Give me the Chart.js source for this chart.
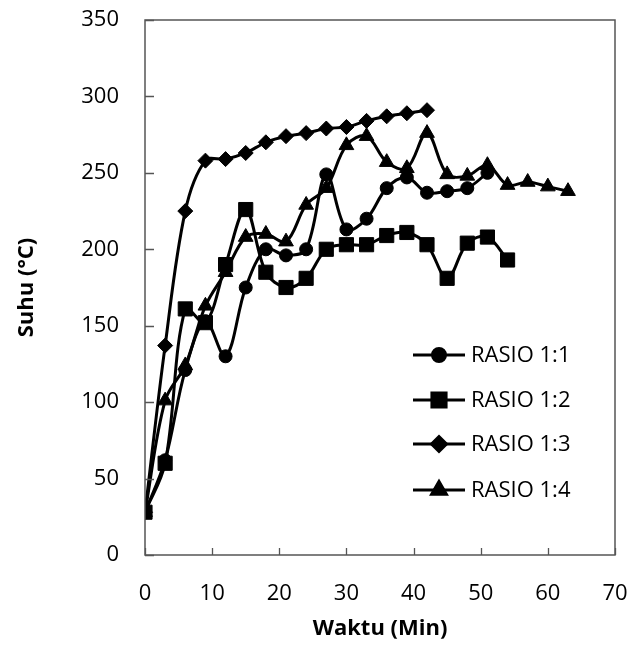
<!DOCTYPE html>
<html>
<head>
<meta charset="utf-8">
<script src="https://cdn.jsdelivr.net/npm/chart.js@4/dist/chart.umd.min.js"></script>
<style>
  html, body { margin: 0; padding: 0; background: #fff; }
  #wrap { width: 630px; height: 646px; }
</style>
</head>
<body>
<div id="wrap"><canvas id="c" width="630" height="646"></canvas></div>
<script>
// ---- data ----
const times = [0, 3, 6, 9, 12, 15, 18, 21, 24, 27, 30, 33, 36, 39, 42, 45, 48, 51, 54, 57, 60, 63];
const rasio11 = [28, 62, 121, 153, 130, 175, 200, 196, 200, 249, 213, 220, 240, 247, 237, 238, 240, 250];
const rasio12 = [28, 60, 161, 152, 190, 226, 185, 175, 181, 200, 203, 203, 209, 211, 203, 181, 204, 208, 193];
const rasio13 = [28, 137, 225, 258, 259, 263, 270, 274, 276, 279, 280, 284, 287, 289, 291];
const rasio14 = [28, 101, 124, 163, 185, 208, 210, 205, 229, 240, 268, 274, 257, 253, 276, 249, 248, 255, 242, 244, 241, 238];
const seriesNames = ['RASIO 1:1', 'RASIO 1:2', 'RASIO 1:3', 'RASIO 1:4'];
const xTicks = [0, 10, 20, 30, 40, 50, 60, 70];
const yTicks = [0, 50, 100, 150, 200, 250, 300, 350];
const xTitle = 'Waktu (Min)';
const yTitle = 'Suhu (°C)';

const FONT = '"Open Sans", "Noto Sans", sans-serif';
const pts = vals => vals.map((v, i) => ({ x: times[i], y: v }));

const styles = [
  { pointStyle: 'circle', pointRadius: 6.5 },
  { pointStyle: 'rect', pointRadius: 10 },
  { pointStyle: 'rectRot', pointRadius: 7.5 },
  { pointStyle: 'triangle', pointRadius: 8.5 }
];
const allVals = [rasio11, rasio12, rasio13, rasio14];

const datasets = allVals.map((vals, i) => ({
  label: seriesNames[i],
  data: pts(vals),
  borderColor: '#000',
  backgroundColor: '#000',
  borderWidth: 3,
  pointBackgroundColor: '#000',
  pointBorderColor: '#000',
  pointBorderWidth: 1,
  pointStyle: styles[i].pointStyle,
  pointRadius: styles[i].pointRadius,
  tension: 0.35,
  fill: false,
  order: 3 - i
}));

const framePlugin = {
  id: 'frame',
  afterDatasetsDraw(chart) {
    const { ctx, chartArea: a, scales } = chart;
    ctx.save();
    ctx.strokeStyle = '#555';
    ctx.lineWidth = 1.5;
    ctx.strokeRect(a.left, a.top, a.right - a.left, a.bottom - a.top);
    ctx.lineWidth = 1.3;
    ctx.beginPath();
    xTicks.forEach(v => {
      const px = Math.round(scales.x.getPixelForValue(v)) + 0.5;
      ctx.moveTo(px, a.bottom);
      ctx.lineTo(px, a.bottom - 7);
    });
    yTicks.forEach(v => {
      const py = Math.round(scales.y.getPixelForValue(v)) + 0.5;
      ctx.moveTo(a.left, py);
      ctx.lineTo(a.left + 9, py);
    });
    ctx.stroke();
    ctx.restore();
  }
};

const legendPlugin = {
  id: 'innerLegend',
  afterDraw(chart) {
    const { ctx } = chart;
    const rows = [355, 400, 444, 490];
    ctx.save();
    chart.data.datasets.forEach((ds, i) => {
      const y = rows[i];
      ctx.strokeStyle = '#000';
      ctx.lineWidth = 3;
      ctx.beginPath();
      ctx.moveTo(413, y);
      ctx.lineTo(465, y);
      ctx.stroke();
      ctx.fillStyle = '#000';
      Chart.helpers.drawPoint(ctx, { pointStyle: ds.pointStyle, radius: ds.pointRadius, borderWidth: 1 }, 439, y);
      ctx.fillStyle = '#000';
      ctx.font = '22px ' + FONT;
      ctx.textBaseline = 'middle';
      ctx.textAlign = 'left';
      ctx.fillText(ds.label, 471, y + 1);
    });
    ctx.restore();
  }
};

new Chart(document.getElementById('c'), {
  type: 'line',
  data: { datasets },
  plugins: [framePlugin, legendPlugin],
  options: {
    responsive: false,
    animation: false,
    devicePixelRatio: 1,
    layout: { padding: { top: 20, right: 15, left: 0, bottom: 0 } },
    plugins: { legend: { display: false }, tooltip: { enabled: false } },
    scales: {
      x: {
        type: 'linear',
        min: 0, max: 70,
        afterFit: s => { s.height = 91; s.paddingLeft = 0; s.paddingRight = 0; },
        afterBuildTicks: s => { s.ticks = xTicks.map(v => ({ value: v })); },
        grid: { display: false, drawTicks: false },
        border: { display: false },
        ticks: { color: '#000', font: { family: FONT, size: 22 }, padding: 26, maxRotation: 0 },
        title: { display: true, text: xTitle, color: '#000', font: { family: FONT, size: 22, weight: 'bold' }, padding: { top: 0, bottom: 4 } }
      },
      y: {
        type: 'linear',
        min: 0, max: 350,
        afterFit: s => { s.width = 145; s.paddingTop = 0; s.paddingBottom = 0; },
        afterBuildTicks: s => { s.ticks = yTicks.map(v => ({ value: v })); },
        grid: { display: false, drawTicks: false },
        border: { display: false },
        ticks: { color: '#000', font: { family: FONT, size: 22 }, padding: 26 },
        title: { display: true, text: yTitle, color: '#000', font: { family: FONT, size: 22, weight: 'bold' }, padding: { top: 14, bottom: 0 } }
      }
    }
  }
});
</script>
</body>
</html>
